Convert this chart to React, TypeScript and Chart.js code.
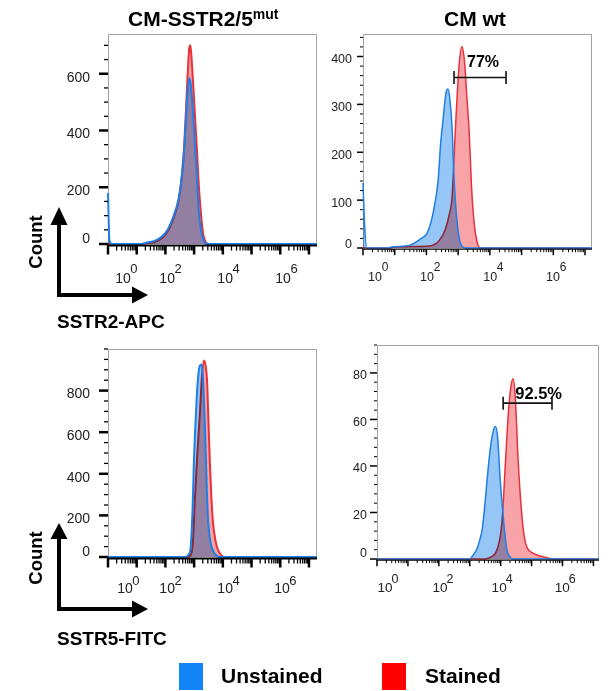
import React, { useEffect, useRef } from 'react';
import Chart from 'chart.js/auto';

const W = 611;
const H = 691;
const FONT = '"Liberation Sans", Arial, Helvetica, sans-serif';

// ---------------- data ----------------
const SERIES_NAMES = ['Unstained', 'Stained'];
const DECADE_BASE = '10';
const DECADE_EXPONENTS = ['0', '2', '4', '6'];

// Panel A: CM-SSTR2/5mut, SSTR2-APC (x in display decades)
const mutApcUnstainedX = [0, 0.05, 0.14, 1.15, 1.3, 1.6, 1.92, 2.1, 2.27, 2.45, 2.54, 2.6, 2.65, 2.72, 2.78, 2.83, 2.88, 2.95, 3.0, 3.05, 3.1, 3.16, 3.24, 3.33, 3.45, 7.28];
const mutApcUnstainedY = [180, 12, 0, 0, 4, 10, 30, 55, 95, 154, 214, 270, 330, 450, 545, 585, 565, 480, 400, 320, 230, 120, 48, 12, 0, 0];
const mutApcStainedX = [0, 1.15, 1.3, 1.6, 1.92, 2.1, 2.27, 2.45, 2.54, 2.6, 2.65, 2.72, 2.78, 2.83, 2.87, 2.92, 3.0, 3.1, 3.15, 3.2, 3.31, 3.4, 3.5, 7.28];
const mutApcStainedY = [0, 0, 2, 6, 25, 48, 88, 150, 210, 270, 340, 480, 610, 690, 700, 640, 505, 330, 230, 154, 38, 8, 0, 0];
const mutApcYTicks = [0, 200, 400, 600];
const mutApcDecadePos = [0.52, 2.06, 4.08, 6.1];

// Panel B: CM wt, SSTR2-APC
const wtApcUnstainedX = [0, 0.05, 0.12, 0.8, 0.9, 1.48, 1.86, 2.02, 2.21, 2.37, 2.45, 2.52, 2.62, 2.68, 2.74, 2.81, 2.86, 2.92, 2.98, 3.05, 3.12, 3.25, 7.22];
const wtApcUnstainedY = [136, 50, 0, 0, 2, 6, 21, 31, 73, 142, 220, 265, 325, 332, 310, 250, 160, 90, 45, 15, 4, 0, 0];
const wtApcStainedX = [0, 0.85, 1.0, 1.8, 2.1, 2.4, 2.59, 2.72, 2.81, 2.9, 2.97, 3.04, 3.12, 3.2, 3.27, 3.35, 3.42, 3.5, 3.6, 3.7, 7.22];
const wtApcStainedY = [0, 0, 2, 3, 4, 15, 38, 70, 107, 230, 320, 390, 421, 390, 320, 240, 130, 55, 12, 0, 0];
const wtApcYTicks = [0, 100, 200, 300, 400];
const wtApcDecadePos = [0.38, 2.02, 4.01, 5.99];
const wtApcGate = [2.87, 4.51, 356];
const wtApcGateLabel = '77%';
const wtApcGateLabelPos = [3.28, 379];

// Panel C: CM-SSTR2/5mut, SSTR5-FITC
const mutFitcUnstainedX = [0, 2.7, 2.8, 2.88, 2.95, 2.99, 3.04, 3.09, 3.15, 3.2, 3.25, 3.3, 3.38, 3.43, 3.48, 3.56, 3.66, 3.8, 3.9, 7.28];
const mutFitcUnstainedY = [0, 0, 10, 48, 250, 450, 620, 767, 880, 920, 925, 880, 609, 380, 192, 80, 30, 5, 0, 0];
const mutFitcStainedX = [0, 2.75, 2.85, 2.95, 3.03, 3.1, 3.2, 3.27, 3.34, 3.4, 3.45, 3.5, 3.55, 3.6, 3.66, 3.75, 3.83, 3.95, 4.05, 7.28];
const mutFitcStainedY = [0, 0, 5, 60, 288, 470, 690, 860, 945, 920, 849, 650, 450, 290, 163, 75, 34, 8, 0, 0];
const mutFitcYTicks = [0, 200, 400, 600, 800];
const mutFitcDecadePos = [0.59, 2.06, 4.08, 6.06];

// Panel D: CM wt, SSTR5-FITC
const wtFitcUnstainedX = [0, 3.0, 3.1, 3.22, 3.32, 3.4, 3.48, 3.56, 3.67, 3.76, 3.83, 3.9, 3.98, 4.09, 4.2, 4.3, 4.37, 7.18];
const wtFitcUnstainedY = [0, 0, 1.5, 4, 8, 12.5, 22, 34, 48, 55, 57, 52.6, 35, 17, 4, 1, 0, 0];
const wtFitcStainedX = [0, 3.5, 3.7, 3.88, 4.04, 4.14, 4.25, 4.33, 4.4, 4.47, 4.57, 4.69, 4.77, 4.85, 5.05, 5.3, 5.5, 5.7, 7.18];
const wtFitcStainedY = [0, 0, 1, 4, 15.5, 38, 63, 74, 77.5, 70, 41, 18, 9, 5, 2.5, 1.2, 0.5, 0, 0];
const wtFitcYTicks = [0, 20, 40, 60, 80];
const wtFitcDecadePos = [0.26, 2.04, 3.95, 5.99];
const wtFitcGate = [4.08, 5.66, 67];
const wtFitcGateLabel = '92.5%';
const wtFitcGateLabelPos = [4.47, 69];

// ---------------- styling ----------------
const BLUE_LINE = '#1f7fe6';
const BLUE_FILL = '#96c6f6';
const RED_LINE = '#e8323a';
const RED_FILL = '#f8a3a8';
const LEGEND_BLUE = '#1284f5';
const LEGEND_RED = '#fe0000';

type Style = {
  axisW: number; majorW: number; minorW: number;
  yMajorLen: number; yMinorLen: number; xMajorLen: number; xMinorLen: number;
  yFont: number; yLabelGap: number; labelShift: number; zeroShift: number;
  xFont: number; expFont: number; expDx: number; baseDy: number; expDy: number;
  lineW: number; gateFont: number; capH: number;
};

type Panel = {
  key: string;
  box: number[]; // left, top, right, bottom (px)
  xMax: number;
  yMax: number;
  yTicks: number[];
  yMinorStep: number;
  decadePos: number[];
  ux: number[]; uy: number[]; sx: number[]; sy: number[];
  gate?: number[]; gateLabel?: string; gateLabelPos?: number[];
  style: Style;
};

const bigStyle: Style = {
  axisW: 2, majorW: 2.5, minorW: 1.3, yMajorLen: 9, yMinorLen: 4, xMajorLen: 9, xMinorLen: 5,
  yFont: 14, yLabelGap: 18, labelShift: 4, zeroShift: -5,
  xFont: 14, expFont: 13, expDx: 11, baseDy: 39, expDy: 29, lineW: 2, gateFont: 16, capH: 6.5,
};
const smallStyle: Style = {
  axisW: 1.3, majorW: 1.5, minorW: 1, yMajorLen: 6, yMinorLen: 3, xMajorLen: 6, xMinorLen: 3,
  yFont: 12.5, yLabelGap: 11, labelShift: 3, zeroShift: -3,
  xFont: 12.5, expFont: 12, expDx: 10, baseDy: 33, expDy: 23, lineW: 1.5, gateFont: 16, capH: 6.5,
};

const PANELS: Panel[] = [
  {
    key: 'mutApc', box: [108, 34, 317, 244], xMax: 7.28, yMax: 740, yTicks: mutApcYTicks, yMinorStep: 50,
    decadePos: mutApcDecadePos, ux: mutApcUnstainedX, uy: mutApcUnstainedY, sx: mutApcStainedX, sy: mutApcStainedY,
    style: bigStyle,
  },
  {
    key: 'wtApc', box: [363, 34, 592, 248], xMax: 7.22, yMax: 447, yTicks: wtApcYTicks, yMinorStep: 20,
    decadePos: wtApcDecadePos, ux: wtApcUnstainedX, uy: wtApcUnstainedY, sx: wtApcStainedX, sy: wtApcStainedY,
    gate: wtApcGate, gateLabel: wtApcGateLabel, gateLabelPos: wtApcGateLabelPos,
    style: smallStyle,
  },
  {
    key: 'mutFitc', box: [108, 349, 317, 557], xMax: 7.28, yMax: 1000, yTicks: mutFitcYTicks, yMinorStep: 50,
    decadePos: mutFitcDecadePos, ux: mutFitcUnstainedX, uy: mutFitcUnstainedY, sx: mutFitcStainedX, sy: mutFitcStainedY,
    style: { ...bigStyle, baseDy: 36, expDy: 28 },
  },
  {
    key: 'wtFitc', box: [377, 345, 599, 559], xMax: 7.18, yMax: 92, yTicks: wtFitcYTicks, yMinorStep: 4,
    decadePos: wtFitcDecadePos, ux: wtFitcUnstainedX, uy: wtFitcUnstainedY, sx: wtFitcStainedX, sy: wtFitcStainedY,
    gate: wtFitcGate, gateLabel: wtFitcGateLabel, gateLabelPos: wtFitcGateLabelPos,
    style: { ...smallStyle, yLabelGap: 10, yMajorLen: 7, zeroShift: -5, xFont: 13.5, expFont: 12.5, baseDy: 33, expDy: 24, gateFont: 16.5 },
  },
];

function makeFlowPlugin(p: Panel) {
  const s = p.style;
  return {
    id: 'flowAxes_' + p.key,
    beforeDatasetsDraw(chart: any) {
      const { ctx, chartArea: ca } = chart;
      ctx.save();
      ctx.strokeStyle = '#a3a3a3';
      ctx.lineWidth = 1;
      ctx.beginPath();
      ctx.moveTo(ca.left + 0.5, ca.bottom);
      ctx.lineTo(ca.left + 0.5, ca.top + 0.5);
      ctx.lineTo(ca.right - 0.5, ca.top + 0.5);
      ctx.lineTo(ca.right - 0.5, ca.bottom);
      ctx.stroke();
      ctx.restore();
      // the fills (drawn by the Filler plugin before each dataset) blend like overlaid histograms
      ctx.globalCompositeOperation = 'multiply';
    },
    beforeDatasetDraw(chart: any) {
      // runs after Filler painted this dataset's area: draw the outline normally
      chart.ctx.globalCompositeOperation = 'source-over';
    },
    afterDatasetDraw(chart: any) {
      chart.ctx.globalCompositeOperation = 'multiply';
    },
    afterDatasetsDraw(chart: any) {
      chart.ctx.globalCompositeOperation = 'source-over';
    },
    afterDraw(chart: any) {
      const { ctx, chartArea: ca, scales } = chart;
      const xs = scales.x;
      const ys = scales.y;
      ctx.save();
      ctx.globalCompositeOperation = 'source-over';
      const axisY = ca.bottom + s.axisW / 2 + 0.5;
      // x axis line
      ctx.strokeStyle = '#000';
      ctx.lineWidth = s.axisW;
      ctx.beginPath();
      ctx.moveTo(ca.left - 1, axisY);
      ctx.lineTo(ca.right, axisY);
      ctx.stroke();

      // y ticks + labels
      ctx.fillStyle = '#222';
      ctx.font = `${s.yFont}px ${FONT}`;
      ctx.textAlign = 'right';
      ctx.textBaseline = 'middle';
      const n = Math.floor(p.yMax / p.yMinorStep + 1e-9);
      for (let i = 0; i <= n; i++) {
        const v = i * p.yMinorStep;
        const py = ys.getPixelForValue(v);
        const major = p.yTicks.includes(v);
        ctx.lineWidth = major ? s.majorW : s.minorW;
        const len = major ? s.yMajorLen : s.yMinorLen;
        ctx.beginPath();
        ctx.moveTo(ca.left - len, py);
        ctx.lineTo(ca.left, py);
        ctx.stroke();
        if (major) {
          ctx.fillText(String(v), ca.left - s.yLabelGap, py + (v === 0 ? s.zeroShift : s.labelShift));
        }
      }

      // x ticks (log decades)
      for (let d = 0; d <= Math.ceil(p.xMax); d++) {
        for (let k = 1; k <= 9; k++) {
          const u = d + Math.log10(k);
          if (u > p.xMax) break;
          const px = xs.getPixelForValue(u);
          const major = k === 1;
          ctx.lineWidth = major ? s.majorW : s.minorW;
          ctx.beginPath();
          ctx.moveTo(px, axisY);
          ctx.lineTo(px, axisY + (major ? s.xMajorLen : s.xMinorLen));
          ctx.stroke();
        }
      }

      // decade labels 10^n
      ctx.textAlign = 'center';
      ctx.textBaseline = 'alphabetic';
      p.decadePos.forEach((u, i) => {
        const px = xs.getPixelForValue(u);
        ctx.font = `${s.xFont}px ${FONT}`;
        ctx.fillText(DECADE_BASE, px, ca.bottom + s.baseDy);
        ctx.font = `${s.expFont}px ${FONT}`;
        ctx.fillText(DECADE_EXPONENTS[i], px + s.expDx, ca.bottom + s.expDy);
      });

      // gate
      if (p.gate && p.gateLabel && p.gateLabelPos) {
        const x1 = xs.getPixelForValue(p.gate[0]);
        const x2 = xs.getPixelForValue(p.gate[1]);
        const gy = ys.getPixelForValue(p.gate[2]);
        ctx.strokeStyle = '#111';
        ctx.lineWidth = 1.6;
        ctx.beginPath();
        ctx.moveTo(x1, gy);
        ctx.lineTo(x2, gy);
        ctx.moveTo(x1, gy - s.capH);
        ctx.lineTo(x1, gy + s.capH);
        ctx.moveTo(x2, gy - s.capH);
        ctx.lineTo(x2, gy + s.capH);
        ctx.stroke();
        ctx.fillStyle = '#000';
        ctx.font = `bold ${s.gateFont}px ${FONT}`;
        ctx.textAlign = 'left';
        ctx.fillText(p.gateLabel, xs.getPixelForValue(p.gateLabelPos[0]), ys.getPixelForValue(p.gateLabelPos[1]));
      }
      ctx.restore();
    },
  };
}

function toPoints(xs: number[], ys: number[]) {
  return xs.map((x, i) => ({ x, y: ys[i] }));
}

function FlowPanel({ p }: { p: Panel }) {
  const ref = useRef<HTMLCanvasElement>(null);
  useEffect(() => {
    if (!ref.current) return;
    const [l, t, r, b] = p.box;
    const common = {
      pointRadius: 0,
      fill: 'origin',
      cubicInterpolationMode: 'monotone' as const,
      borderWidth: p.style.lineW,
      clip: false as const,
    };
    const chart = new Chart(ref.current, {
      type: 'line',
      data: {
        datasets: [
          { ...common, label: SERIES_NAMES[0], data: toPoints(p.ux, p.uy), borderColor: BLUE_LINE, backgroundColor: BLUE_FILL },
          { ...common, label: SERIES_NAMES[1], data: toPoints(p.sx, p.sy), borderColor: RED_LINE, backgroundColor: RED_FILL },
        ],
      } as any,
      options: {
        responsive: false,
        animation: false,
        events: [],
        layout: { padding: { left: l, top: t, right: W - r, bottom: H - b } },
        scales: {
          x: { type: 'linear', min: 0, max: p.xMax, display: false },
          y: { type: 'linear', min: 0, max: p.yMax, display: false },
        },
        plugins: { legend: { display: false }, tooltip: { enabled: false } },
      } as any,
      plugins: [makeFlowPlugin(p)],
    });
    return () => chart.destroy();
  }, [p]);
  return (
    <canvas
      ref={ref}
      width={W}
      height={H}
      style={{ position: 'absolute', left: 0, top: 0, width: W, height: H, pointerEvents: 'none' }}
    />
  );
}

const boldText = (size: number): React.CSSProperties => ({
  position: 'absolute',
  fontFamily: FONT,
  fontWeight: 'bold',
  fontSize: size,
  lineHeight: 1,
  whiteSpace: 'nowrap',
  color: '#000',
});

export default function App() {
  return (
    <div style={{ position: 'absolute', left: 0, top: 0, width: W, height: H, background: '#fff', overflow: 'hidden' }}>
      {PANELS.map((p) => (
        <FlowPanel key={p.key} p={p} />
      ))}

      {/* column titles */}
      <div style={{ ...boldText(21), left: 128, top: 8 }}>
        CM-SSTR2/5
        <span style={{ fontSize: 14, position: 'relative', top: -7 }}>mut</span>
      </div>
      <div style={{ ...boldText(21), left: 444, top: 8 }}>CM wt</div>

      {/* axis arrows */}
      <svg width={W} height={H} style={{ position: 'absolute', left: 0, top: 0, pointerEvents: 'none' }}>
        <polyline points="59,223 59,295 134,295" fill="none" stroke="#000" strokeWidth={4} strokeLinejoin="miter" />
        <polygon points="59,207 50.5,225 67.5,225" fill="#000" />
        <polygon points="148,295 132,286.5 132,303.5" fill="#000" />
        <polyline points="59,537 59,609 134,609" fill="none" stroke="#000" strokeWidth={4} strokeLinejoin="miter" />
        <polygon points="59,523 50.5,539 67.5,539" fill="#000" />
        <polygon points="148,609 132,600.5 132,617.5" fill="#000" />
      </svg>

      {/* Count labels */}
      <div style={{ ...boldText(18.5), left: 36, top: 242, transform: 'translate(-50%, -50%) rotate(-90deg)' }}>Count</div>
      <div style={{ ...boldText(18.5), left: 36, top: 558, transform: 'translate(-50%, -50%) rotate(-90deg)' }}>Count</div>

      {/* channel labels */}
      <div style={{ ...boldText(19), left: 57, top: 312 }}>SSTR2-APC</div>
      <div style={{ ...boldText(19), left: 57, top: 629 }}>SSTR5-FITC</div>

      {/* legend */}
      <div style={{ position: 'absolute', left: 179, top: 663, width: 24, height: 27, background: LEGEND_BLUE }} />
      <div style={{ ...boldText(21), left: 221, top: 665 }}>{SERIES_NAMES[0]}</div>
      <div style={{ position: 'absolute', left: 382, top: 663, width: 24, height: 27, background: LEGEND_RED }} />
      <div style={{ ...boldText(21), left: 425, top: 665 }}>{SERIES_NAMES[1]}</div>
    </div>
  );
}
